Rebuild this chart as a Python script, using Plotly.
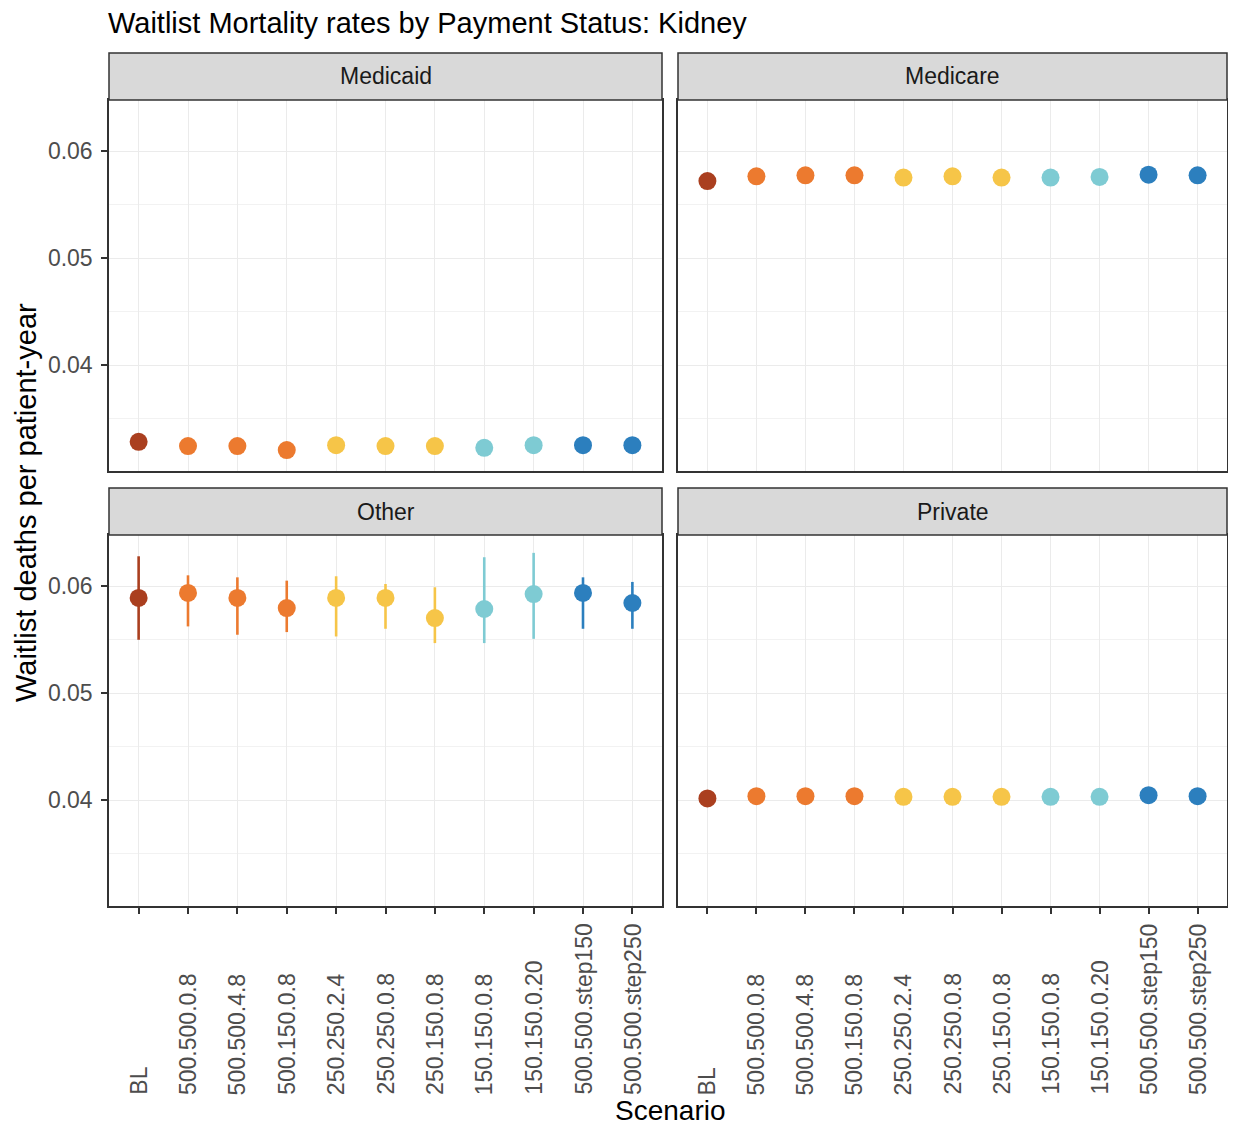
"""Waitlist mortality by payment status, faceted 2x2."""

import plotly.graph_objects as go

scenarios = [
    "BL", "500.500.0.8", "500.500.4.8", "500.150.0.8", "250.250.2.4",
    "250.250.0.8", "250.150.0.8", "150.150.0.8", "150.150.0.20",
    "500.500.step150", "500.500.step250",
]
colors = [
    "#AA3F1F", "#EC7A2F", "#EC7A2F", "#EC7A2F", "#F6C548", "#F6C548",
    "#F6C548", "#7ECBD3", "#7ECBD3", "#2C7FBE", "#2C7FBE",
]
panels = ["Medicaid", "Medicare", "Other", "Private"]

medicaid = [0.03283, 0.03243, 0.03243, 0.03206, 0.03252, 0.03243,
            0.03243, 0.03227, 0.03252, 0.03252, 0.03252]
medicare = [0.05722, 0.05766, 0.05776, 0.05776, 0.05754, 0.05766,
            0.05754, 0.05754, 0.05760, 0.05782, 0.05776]
other = [0.05891, 0.05938, 0.05891, 0.05797, 0.05891, 0.05891,
         0.05703, 0.05788, 0.05928, 0.05938, 0.05844]
other_hi = [0.06281, 0.06103, 0.06084, 0.06053, 0.06094, 0.06022,
            0.05991, 0.06272, 0.06313, 0.06084, 0.06041]
other_lo = [0.05500, 0.05625, 0.05547, 0.05572, 0.05531, 0.05603,
            0.05469, 0.05469, 0.05509, 0.05603, 0.05603]
private = [0.04016, 0.04037, 0.04037, 0.04037, 0.04031, 0.04031,
           0.04031, 0.04031, 0.04031, 0.04047, 0.04037]

y_ticks = [0.04, 0.05, 0.06]
y_range = [0.0301, 0.0648]

# the page puts the figure 8px in from each edge, so keep it inside the window
OFF = 8
W, H = 1236 - 2 * OFF, 1135 - 2 * OFF
FONT = "Liberation Sans, Arial, sans-serif"


def px(x):
    return (x - OFF) / W


def py(y):
    return 1 - (y - OFF) / H


# panel boxes in page pixels: (left, right, top, bottom)
boxes = [(109, 662, 100, 471), (678, 1227, 100, 471),
         (109, 662, 535, 906), (678, 1227, 535, 906)]
STRIP_H = 47

values = [medicaid, medicare, other, private]
errors = [None, None, (other_hi, other_lo), None]

fig = go.Figure()

for p, (name, vals, err) in enumerate(zip(panels, values, errors)):
    suffix = "" if p == 0 else str(p + 1)
    for i, scen in enumerate(scenarios):
        kw = {}
        if err is not None:
            hi, lo = err
            kw["error_y"] = dict(
                type="data", symmetric=False,
                array=[hi[i] - vals[i]], arrayminus=[vals[i] - lo[i]],
                color=colors[i], thickness=2.6, width=0,
            )
        fig.add_trace(go.Scatter(
            x=[scen], y=[vals[i]], mode="markers",
            marker=dict(size=18, color=colors[i]),
            xaxis="x" + suffix, yaxis="y" + suffix,
            showlegend=False, **kw,
        ))

layout = {}
for p, (l, r, t, b) in enumerate(boxes):
    suffix = "" if p == 0 else str(p + 1)
    bottom_row = p >= 2
    left_col = p % 2 == 0
    layout["xaxis" + suffix] = dict(
        domain=[px(l), px(r)], anchor="y" + suffix,
        type="category", categoryarray=scenarios, categoryorder="array",
        range=[-0.6, 10.6], showticklabels=False,
        ticks="outside" if bottom_row else "", ticklen=6,
        tickcolor="#333333", tickwidth=1.5,
        showgrid=True, gridcolor="#EBEBEB", gridwidth=1.2,
        showline=True, mirror=True, linecolor="#333333", linewidth=1.5,
        zeroline=False,
    )
    layout["yaxis" + suffix] = dict(
        domain=[py(b), py(t)], anchor="x" + suffix,
        range=y_range, tickvals=y_ticks,
        ticktext=[f"{v:.2f}" for v in y_ticks],
        showticklabels=left_col,
        ticks="outside" if left_col else "", ticklen=6,
        tickcolor="#333333", tickwidth=1.5, ticklabelstandoff=4,
        tickfont=dict(size=23, color="#4D4D4D"),
        showgrid=True, gridcolor="#EBEBEB", gridwidth=1.2,
        minor=dict(dtick=0.005, tick0=0.0, showgrid=True,
                   gridcolor="#F2F2F2", gridwidth=0.7),
        showline=True, mirror=True, linecolor="#333333", linewidth=1.5,
        zeroline=False,
    )

shapes = []
annotations = []
for p, (l, r, t, b) in enumerate(boxes):
    shapes.append(dict(
        type="rect", xref="paper", yref="paper",
        x0=px(l), x1=px(r), y0=py(t), y1=py(t - STRIP_H),
        fillcolor="#D9D9D9", line=dict(color="#333333", width=1.5),
    ))
    annotations.append(dict(
        text=panels[p], xref="paper", yref="paper",
        x=px((l + r) / 2), y=py(t - STRIP_H / 2),
        xanchor="center", yanchor="middle", showarrow=False,
        font=dict(size=23, color="#1A1A1A"),
    ))
    if p >= 2:
        suffix = str(p + 1)
        for scen in scenarios:
            annotations.append(dict(
                text=scen, xref="x" + suffix, yref="paper",
                x=scen, y=py(1097), xanchor="center", yanchor="bottom",
                textangle=-90, showarrow=False,
                font=dict(size=23, color="#4D4D4D"),
            ))

annotations += [
    dict(text="Waitlist Mortality rates by Payment Status: Kidney",
         xref="paper", yref="paper", x=px(106), y=py(23),
         xanchor="left", yanchor="middle", showarrow=False,
         font=dict(size=29, color="#000000")),
    dict(text="Waitlist deaths per patient-year",
         xref="paper", yref="paper", x=px(26), y=py(503),
         xanchor="center", yanchor="middle", textangle=-90,
         showarrow=False, font=dict(size=29, color="#000000")),
    dict(text="Scenario", xref="paper", yref="paper",
         x=px(670), y=py(1110), xanchor="center", yanchor="middle",
         showarrow=False, borderpad=0,
         font=dict(size=28, color="#000000")),
]

fig.update_layout(
    **layout,
    shapes=shapes,
    annotations=annotations,
    width=W, height=H,
    margin=dict(l=0, r=0, t=0, b=0),
    paper_bgcolor="white", plot_bgcolor="white",
    font=dict(family=FONT, color="#000000"),
)

fig.write_html("out.html")
